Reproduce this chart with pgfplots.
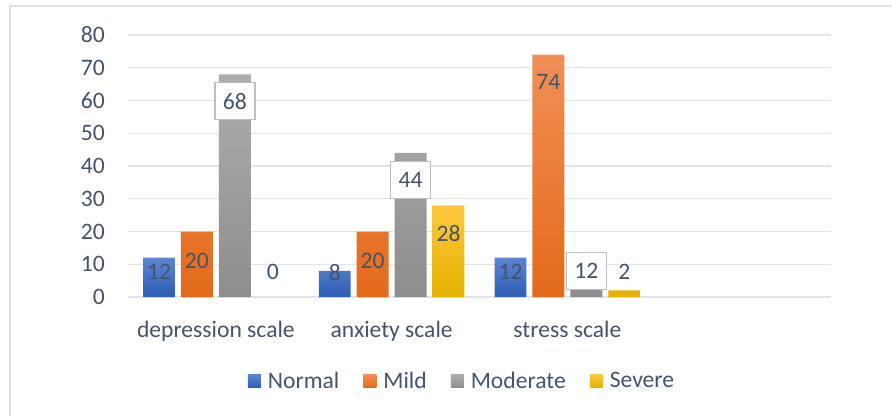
\documentclass[border=0pt]{standalone}
\usepackage{pgfplots}
\pgfplotsset{compat=1.18}
\usepackage{fontspec}
\setmainfont{Carlito}
\definecolor{textc}{HTML}{44546A}
\definecolor{gridc}{HTML}{E1E4E9}
\definecolor{framec}{HTML}{DCE1E9}
\definecolor{boxc}{HTML}{BFBFBF}
\definecolor{nTop}{HTML}{5A86D2}
\definecolor{nBot}{HTML}{2E5DB5}
\definecolor{mTop}{HTML}{F18F57}
\definecolor{mBot}{HTML}{E46A1A}
\definecolor{gTop}{HTML}{ADADAD}
\definecolor{gBot}{HTML}{8E8E8E}
\definecolor{yTop}{HTML}{FFC83E}
\definecolor{yBot}{HTML}{E5B000}
\newcommand{\chartfont}{\fontsize{23.6bp}{27bp}\selectfont}
\begin{document}
\begin{tikzpicture}[font=\chartfont]
\useasboundingbox (-128bp,-119bp) rectangle (764bp,297bp);
\draw[framec, line width=1.5bp] (-118bp,-125bp) -- (-118bp,291bp) -- (770bp,291bp);
\begin{axis}[
  at={(0bp,0bp)}, anchor=south west,
  scale only axis, width=703bp, height=262bp,
  xmin=-0.5, xmax=3.5, ymin=0, ymax=80,
  xtick={0,1,2}, xticklabels={depression scale, anxiety scale, stress scale},
  ytick={0,10,...,80},
  major tick length=0pt,
  axis line style={draw=none},
  ymajorgrids, grid style={gridc, line width=1.3bp},
  clip=false,
  /pgf/number format/assume math mode=true,
  tick label style={font=\chartfont, text=textc, inner sep=0pt},
  xticklabel style={anchor=base, yshift=-40bp},
  yticklabel style={anchor=east, xshift=-23bp},
  legend columns=4,
  legend style={draw=none, fill=none, at={(axis description cs:0.4737,-0.3206)}, anchor=center,
    font=\chartfont, text=textc, nodes={inner sep=0pt},
    /tikz/every odd column/.append style={column sep=7bp},
    /tikz/every even column/.append style={column sep=24bp}},
  legend image code/.code={\path[#1, draw=none] (0bp,-6.5bp) rectangle (13bp,6.5bp);},
  every node near coord/.append style={font=\chartfont, text=textc},
]
\addplot[ybar, bar width=0.182, bar shift=0pt, draw=none, top color=nTop, bottom color=nBot]
  coordinates {(-0.3236,12) (0.6764,8) (1.6764,12)};
\addlegendentry{Normal}
\addplot[ybar, bar width=0.182, bar shift=0pt, draw=none, top color=mTop, bottom color=mBot]
  coordinates {(-0.1079,20) (0.8921,20) (1.8921,74)};
\addlegendentry{Mild}
\addplot[ybar, bar width=0.182, bar shift=0pt, draw=none, top color=gTop, bottom color=gBot]
  coordinates {(0.1079,68) (1.1079,44) (2.1079,12)};
\addlegendentry{Moderate}
\addplot[ybar, bar width=0.182, bar shift=0pt, draw=none, top color=yTop, bottom color=yBot]
  coordinates {(1.3236,28) (2.3236,2)};
\addlegendentry{Severe}
% data labels
\addplot[draw=none, mark=none, forget plot, nodes near coords, point meta=explicit symbolic,
  nodes near coords align={center}]
  coordinates {(-0.3236,7.6)[12] (0.6764,7.6)[8] (1.6764,7.6)[12]
               (-0.1079,11.1)[20] (0.8921,11.1)[20] (1.8921,65.6)[74]
               (0.3236,7.6)[0] (1.3236,19.5)[28] (2.3236,7.6)[2]};
\addplot[draw=none, mark=none, forget plot, nodes near coords, point meta=explicit symbolic,
  nodes near coords align={center},
  every node near coord/.append style={draw=boxc, fill=white, line width=1.5bp,
    minimum width=40bp, minimum height=37bp, inner sep=0pt}]
  coordinates {(0.1079,59.8)[68] (1.1079,35.7)[44] (2.1079,7.9)[12]};
\end{axis}
\end{tikzpicture}
\end{document}
